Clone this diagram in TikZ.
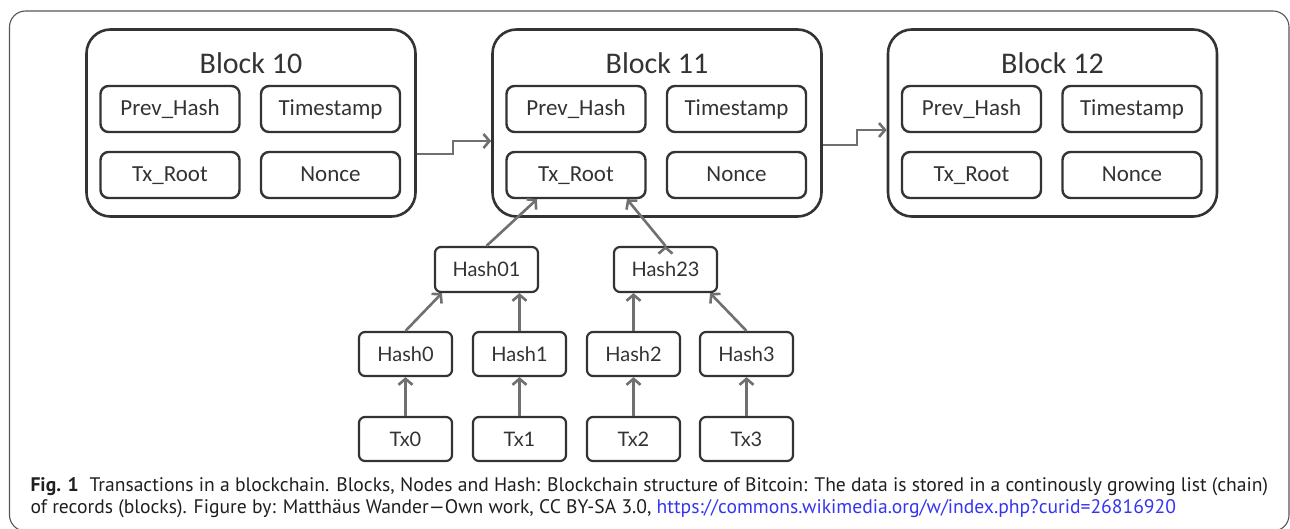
\documentclass[tikz,border=0pt]{standalone}
\usepackage{fontspec}
\usepackage{tikz}
\usetikzlibrary{arrows.meta, positioning}
\newfontfamily\blockfont{Carlito}
\newfontfamily\treefont{Lato}
\newfontfamily\capfont{PT Sans}
\definecolor{boxgray}{HTML}{333333}
\definecolor{arrowgray}{HTML}{707070}
\definecolor{framegray}{HTML}{555555}
\definecolor{linkblue}{HTML}{3535F0}

\begin{document}
\begin{tikzpicture}[x=1pt,y=-1pt,on grid,>={Straight Barb[length=6pt,width=14pt]},
      block/.style={draw=boxgray,line width=2.6pt,rounded corners=24pt,minimum width=329pt,minimum height=187pt},
      title/.style={font=\blockfont\fontsize{30}{30}\selectfont,text=boxgray},
      field/.style={draw=boxgray,line width=2.4pt,rounded corners=8pt,minimum width=139pt,minimum height=46pt,
        font=\blockfont\fontsize{23}{23}\selectfont,text=boxgray,text height=16pt,text depth=2pt},
      hashbox/.style={draw=boxgray,line width=2.2pt,rounded corners=6pt,minimum width=93pt,minimum height=44pt,
        font=\treefont\fontsize{20}{20}\selectfont,text=boxgray},
      link/.style={->,draw=arrowgray,line width=2.6pt},
      captext/.style={anchor=base west,font=\capfont\fontsize{19.6}{22}\selectfont,text=black!88}]
      \useasboundingbox (0,0) rectangle (1290,529);
      \draw[framegray,line width=1.1pt,rounded corners=16pt] (9.5,11) rectangle (1289,531);
      % blocks of the chain
      \node[block] (b10) at (251,123) {};
      \node[block] (b11) at (657,123) {};
      \node[block] (b12) at (1052.5,123) {};
      \node[title] (t10) [above=60pt of b10] {Block 10};
      \node[field] (prev10) [above left=14pt and 81pt of b10] {Prev\_Hash};
      \node[field] (time10) [above right=14pt and 79.5pt of b10] {Timestamp};
      \node[field] (root10) [below left=52pt and 81pt of b10] {Tx\_Root};
      \node[field] (nonce10) [below right=52pt and 79.5pt of b10] {Nonce};
      \node[title] (t11) [above=60pt of b11] {Block 11};
      \node[field] (prev11) [above left=14pt and 81pt of b11] {Prev\_Hash};
      \node[field] (time11) [above right=14pt and 79.5pt of b11] {Timestamp};
      \node[field] (root11) [below left=52pt and 81pt of b11] {Tx\_Root};
      \node[field] (nonce11) [below right=52pt and 79.5pt of b11] {Nonce};
      \node[title] (t12) [above=60pt of b12] {Block 12};
      \node[field] (prev12) [above left=14pt and 81pt of b12] {Prev\_Hash};
      \node[field] (time12) [above right=14pt and 79.5pt of b12] {Timestamp};
      \node[field] (root12) [below left=52pt and 81pt of b12] {Tx\_Root};
      \node[field] (nonce12) [below right=52pt and 79.5pt of b12] {Nonce};
      \draw[link] ([yshift=-31pt]b10.east) -- ++(36,0) |- ([yshift=-18pt]b11.west);
      \draw[link] ([yshift=-22pt]b11.east) -- ++(34,0) |- ([yshift=-7pt]b12.west);
      % merkle tree under block 11
      \node[hashbox] (tx0) at (405.5,439) {Tx0};
      \node[hashbox] (tx1) [right=114pt of tx0] {Tx1};
      \node[hashbox] (tx2) [right=114pt of tx1] {Tx2};
      \node[hashbox] (tx3) [right=113pt of tx2] {Tx3};
      \node[hashbox] (h0) [above=85pt of tx0] {Hash0};
      \node[hashbox] (h1) [above=85pt of tx1] {Hash1};
      \node[hashbox] (h2) [above=85pt of tx2] {Hash2};
      \node[hashbox] (h3) [above=85pt of tx3] {Hash3};
      \node[hashbox, minimum width=103pt, minimum height=45pt] (h01) [above right=84.5pt and 81pt of h0] {Hash01};
      \node[hashbox, minimum width=103pt, minimum height=45pt] (h23) [above left=84.5pt and 81pt of h3] {Hash23};
      \path[link]
      (tx0) edge (h0)
      (tx1) edge (h1)
      (tx2) edge (h2)
      (tx3) edge (h3)
      (h0.north) edge ([xshift=8pt]h01.south west)
      (h1.north) edge (h1.north |- h01.south)
      (h2.north) edge (h2.north |- h23.south)
      (h3.north) edge ([xshift=-8pt]h23.south east)
      (h01.north) edge ([xshift=-39pt]root11.south)
      (h23.north) edge ([xshift=51pt]root11.south);
      % caption
      \node[captext] (cap1) at (27,491)
        {\textbf{Fig. 1}\hspace{0.55em}Transactions in a blockchain. Blocks, Nodes and Hash: Blockchain structure of Bitcoin: The data is stored in a continously growing list (chain)};
      \node[captext] (cap2) at (27,513)
        {of records (blocks). Figure by: Matthäus Wander—Own work, CC BY-SA 3.0, \textcolor{linkblue}{https://commons.wikimedia.org/w/index.php?curid=26816920}};
    \end{tikzpicture}
\end{document}
